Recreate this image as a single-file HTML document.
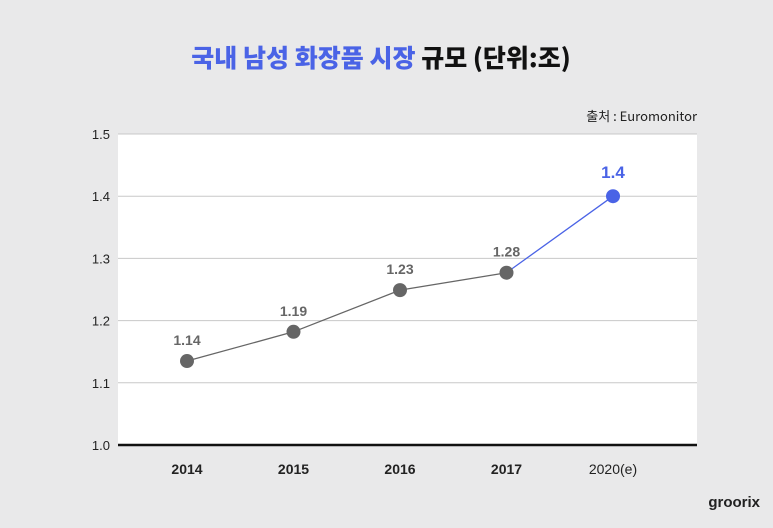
<!DOCTYPE html>
<html><head><meta charset="utf-8"><style>
body{margin:0;width:773px;height:523px;background:#e9e9ea;overflow:hidden;font-family:"Liberation Sans","Noto Sans CJK KR",sans-serif}
</style></head><body>
<svg width="773" height="523" id="svg">
<text x="381" y="67" text-anchor="middle" font-size="25" font-weight="900" font-family="Noto Sans CJK KR, sans-serif"><tspan fill="#4a63e6">국내 남성 화장품 시장</tspan><tspan fill="#111"> 규모 (단위:조)</tspan></text>
<text x="697" y="121" text-anchor="end" font-size="13" fill="#222" font-family="Noto Sans CJK KR, sans-serif">출처 : Euromonitor</text>
<rect x="118" y="134" width="579" height="311" fill="#fff"/>
<g id="grid"></g><g id="marks"></g>
<text x="760" y="507" text-anchor="end" font-size="15" font-weight="bold" fill="#222">groorix</text>
</svg>
<script>
const categories=["2014","2015","2016","2017","2020(e)"];
const values=[1.135,1.182,1.249,1.277,1.40];
const labels=["1.14","1.19","1.23","1.28","1.4"];
const yTicks=[1.0,1.1,1.2,1.3,1.4,1.5];
const NS="http://www.w3.org/2000/svg";
const y=v=>445-(v-1.0)*622;
const x=i=>187+i*106.5;
function mk(t,a,p){const e=document.createElementNS(NS,t);for(const k in a)e.setAttribute(k,a[k]);p.appendChild(e);return e;}
const grid=document.getElementById('grid'),marks=document.getElementById('marks');
yTicks.forEach(v=>{
 const l=mk('line',{x1:118,x2:697,y1:y(v),y2:y(v),stroke:v===1.0?'#111':'#c8c8c8','stroke-width':v===1.0?2.5:1},grid);
 
 
 const t=mk('text',{x:110,y:y(v)+5,'text-anchor':'end','font-size':13,fill:'#222'},grid);
 t.textContent=v.toFixed(1);
 
 
});
categories.forEach((c,i)=>{
 const t=mk('text',{x:x(i),y:474,'text-anchor':'middle','font-size':14,'font-weight':i<4?'bold':'normal',fill:'#222'},grid);
 t.textContent=c;
 
 
});
for(let i=0;i<values.length-1;i++){
 const last=i===values.length-2;
 const l=mk('line',{x1:x(i),y1:y(values[i]),x2:x(i+1),y2:y(values[i+1]),stroke:last?'#4a63e6':'#666','stroke-width':1.3},marks);
 
 
}
values.forEach((v,i)=>{
 const last=i===values.length-1;
 const c=mk('circle',{cx:x(i),cy:y(v),r:7,fill:last?'#4a63e6':'#666'},marks);
 
 
 const t=mk('text',{x:x(i),y:y(v)-(last?18:16),'text-anchor':'middle','font-size':last?17:14,'font-weight':'bold',fill:last?'#4a63e6':'#666'},marks);
 t.textContent=labels[i];
 
 
});
</script>
</body></html>
